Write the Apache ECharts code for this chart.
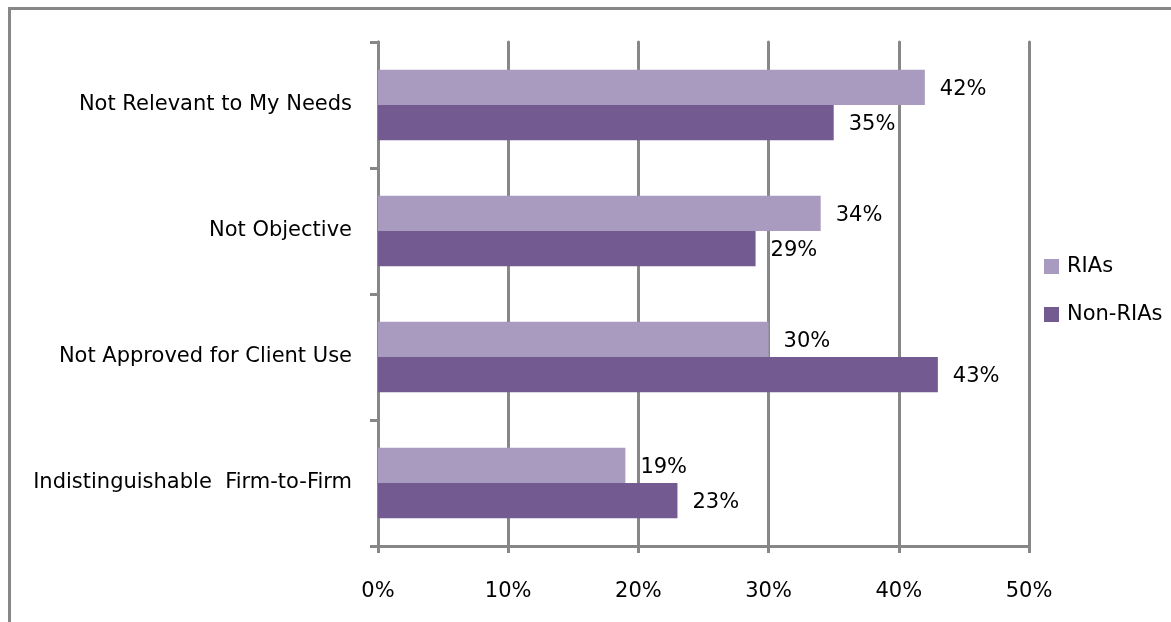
<!DOCTYPE html>
<html>
<head>
<meta charset="utf-8">
<script src="https://cdn.jsdelivr.net/npm/echarts@6/dist/echarts.min.js"></script>
<style>
  html, body { margin: 0; padding: 0; background: #fff; }
  #chart { width: 1171px; height: 622px; }
</style>
</head>
<body>
<div id="chart"></div>
<script>
// Reasons for not using the material, listed top to bottom
const categories = [
  'Not Relevant to My Needs',
  'Not Objective',
  'Not Approved for Client Use',
  'Indistinguishable  Firm-to-Firm'
];
const riaValues = [42, 34, 30, 19];
const nonRiaValues = [35, 29, 43, 23];
const xTicks = { min: 0, max: 50, step: 10 };

const FONT = '"DejaVu Sans", sans-serif';
const FS = 21;
const GRAY = '#878787';

const valueLabel = {
  show: true, position: 'right', distance: 15, offset: [0, 2],
  formatter: '{c}%', fontSize: FS, color: '#000', fontFamily: FONT
};

const chart = echarts.init(document.getElementById('chart'));
chart.setOption({
  animation: false,
  textStyle: { fontFamily: FONT },
  graphic: [{
    type: 'rect',
    left: 7, top: 6,
    shape: { width: 1220, height: 700 },
    style: { fill: 'none', stroke: GRAY, lineWidth: 3 }
  }],
  grid: { left: 378, right: 142, top: 42, bottom: 76 },
  legend: {
    orient: 'vertical',
    left: 1044, top: 256,
    padding: 0,
    itemWidth: 15, itemHeight: 15,
    itemGap: 27,
    icon: 'rect',
    data: ['RIAs', 'Non-RIAs'],
    textStyle: { fontFamily: FONT, fontSize: FS, color: '#000', padding: [0, 0, 0, 3] }
  },
  xAxis: {
    type: 'value',
    min: xTicks.min, max: xTicks.max, interval: xTicks.step,
    axisLine: { show: true, lineStyle: { color: GRAY, width: 3 } },
    axisTick: { show: true, length: 7, lineStyle: { color: GRAY, width: 3 } },
    splitLine: { show: true, lineStyle: { color: GRAY, width: 3, cap: 'round' } },
    axisLabel: { formatter: '{value}%', margin: 35, fontSize: FS, color: '#000', fontFamily: FONT }
  },
  yAxis: {
    type: 'category',
    inverse: true,
    data: categories,
    axisLine: { show: true, lineStyle: { color: GRAY, width: 3 } },
    axisTick: { show: true, length: 8, lineStyle: { color: GRAY, width: 3 } },
    axisLabel: { margin: 26, fontSize: FS, color: '#000', fontFamily: FONT }
  },
  series: [
    {
      name: 'RIAs', type: 'bar', data: riaValues,
      barGap: '0%', barCategoryGap: '44%',
      itemStyle: { color: '#A99BBF' },
      label: valueLabel
    },
    {
      name: 'Non-RIAs', type: 'bar', data: nonRiaValues,
      barGap: '0%', barCategoryGap: '44%',
      itemStyle: { color: '#735A91' },
      label: valueLabel
    }
  ]
});
</script>
</body>
</html>
